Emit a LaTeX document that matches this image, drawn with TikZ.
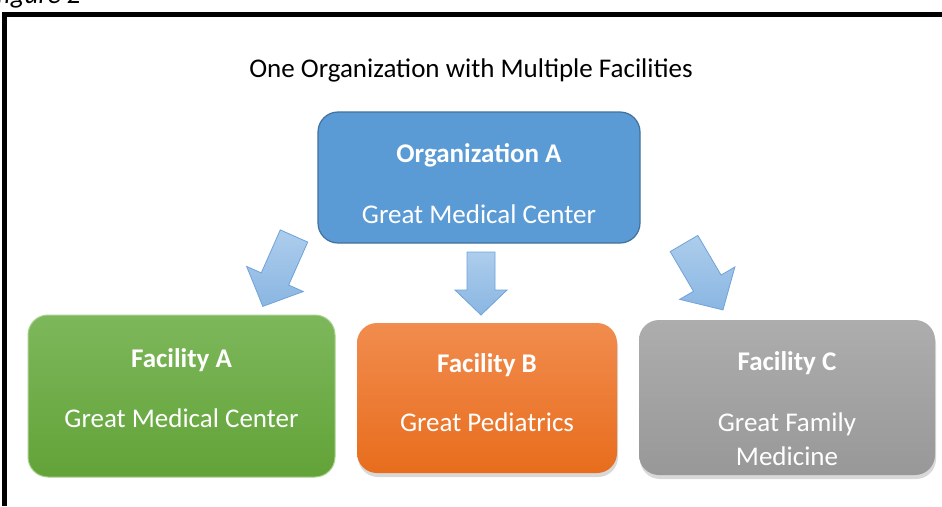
\documentclass[tikz,border=0pt]{standalone}
\usepackage{fontspec}
\setmainfont{Carlito}
\usetikzlibrary{shadows}

\definecolor{orgblue}{HTML}{5B9BD5}
\definecolor{orgline}{HTML}{41719C}
\definecolor{arrowtop}{HTML}{ADCDEC}
\definecolor{arrowbot}{HTML}{8AB6E2}
\definecolor{arrowline}{HTML}{6FA3DA}
\definecolor{greentop}{HTML}{7DB75B}
\definecolor{greenbot}{HTML}{62A338}
\definecolor{greenline}{HTML}{A9D18E}
\definecolor{orangetop}{HTML}{F18C4E}
\definecolor{orangebot}{HTML}{E86D1D}
\definecolor{graytop}{HTML}{ADADAD}
\definecolor{graybot}{HTML}{989898}

\begin{document}
\begin{tikzpicture}[x=1pt, y=-1pt,
    box/.style={rounded corners=20pt, inner sep=0pt},
    boxshadow/.style={drop shadow={opacity=0.3, shadow xshift=1pt, shadow yshift=-4pt}},
    lbl/.style={anchor=base, text=white, font=\fontsize{27}{34}\selectfont},
    blockarr/.style={draw=arrowline, line width=0.8pt, top color=arrowtop, bottom color=arrowbot}]
    \useasboundingbox (0,0) rectangle (942,506);
    \fill[white] (0,0) rectangle (942,506);
    \draw[line width=5pt] (4.5,506) |- (942,14);
    \node[anchor=base west, font=\fontsize{27}{34}\selectfont\itshape] (figcap) at (-7,3.5) {figure 2};
    \node[anchor=base, font=\fontsize{27}{34}\selectfont] (title) at (471,77.5) {One Organization with Multiple Facilities};

    \node[box, fill=orgblue, draw=orgline, line width=1.2pt, minimum width=322pt, minimum height=131pt] (orga) at (479,177.5) {};
    \node[lbl] (organame) at (orga.center |- 0,162) {\textbf{Organization A}};
    \node[lbl] (orgasite) at (orga.center |- 0,223) {Great Medical Center};

    \node[box, top color=greentop, bottom color=greenbot, draw=greenline, line width=1pt, minimum width=307pt, minimum height=162pt] (faca) at (181.5,396) {};
    \node[lbl] (facaname) at (faca.center |- 0,367) {\textbf{Facility A}};
    \node[lbl] (facasite) at (faca.center |- 0,427) {Great Medical Center};

    \node[box, boxshadow, top color=orangetop, bottom color=orangebot, minimum width=260pt, minimum height=150pt] (facb) at (487,398) {};
    \node[lbl] (facbname) at (facb.center |- 0,372) {\textbf{Facility B}};
    \node[lbl] (facbsite) at (facb.center |- 0,431) {Great Pediatrics};

    \node[box, boxshadow, top color=graytop, bottom color=graybot, minimum width=296pt, minimum height=155pt] (facc) at (787,397.5) {};
    \node[lbl] (faccname) at (facc.center |- 0,370) {\textbf{Facility C}};
    \node[lbl, align=center, anchor=north] (faccsite) at (facc.center |- 0,409) {Great Family\\Medicine};

    \draw[blockarr, shift={(294,236)}, rotate=-113.9] (0,-15) -- (47,-15) -- (47,-31) -- (77,0) -- (47,31) -- (47,15) -- (0,15) -- cycle;
    \draw[blockarr, shift={(481,252)}, rotate=-90] (0,-14) -- (38,-14) -- (38,-26) -- (63,0) -- (38,26) -- (38,14) -- (0,14) -- cycle;
    \draw[blockarr, shift={(684,243.5)}, rotate=-59.6] (0,-16) -- (46,-16) -- (46,-32) -- (77,0) -- (46,32) -- (46,16) -- (0,16) -- cycle;
\end{tikzpicture}
\end{document}
